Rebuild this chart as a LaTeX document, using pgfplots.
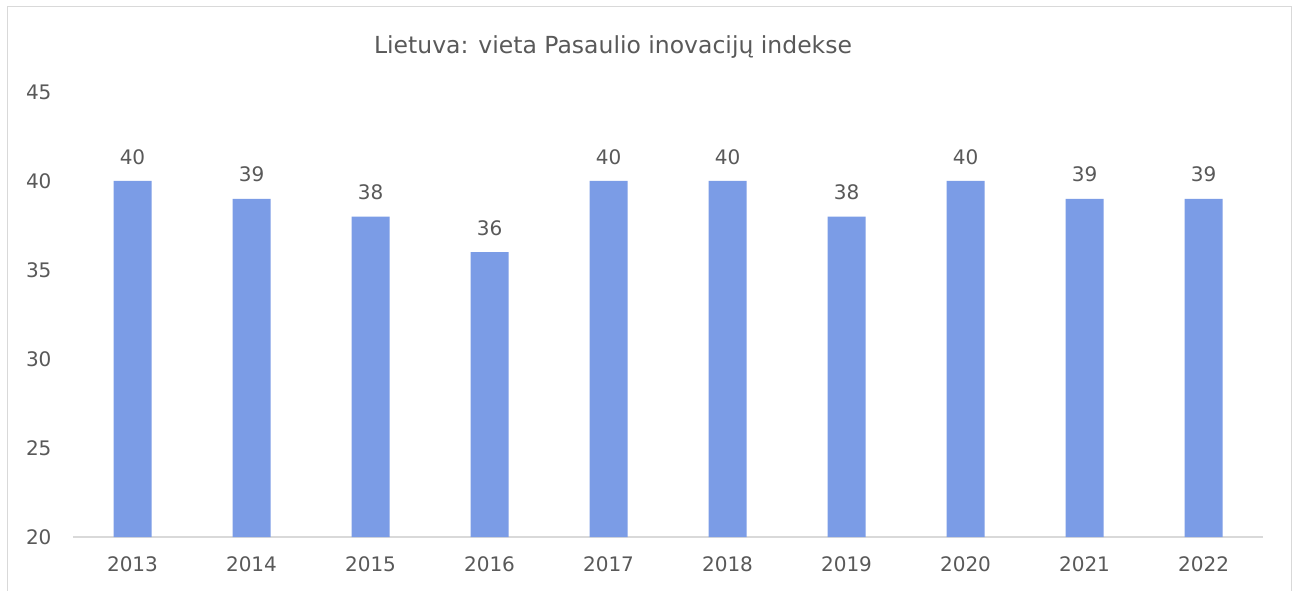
\documentclass[border=0pt]{standalone}
\usepackage{pgfplots}
\pgfplotsset{compat=1.18}
\usepackage{fontspec}
\setmainfont{DejaVu Sans}
\definecolor{barc}{HTML}{7B9CE6}
\definecolor{txt}{HTML}{595959}
\definecolor{linec}{HTML}{D9D9D9}
\begin{document}
\begin{tikzpicture}[x=1pt,y=1pt]
\useasboundingbox (0,0) rectangle (1299,590);
\fill[white] (0,0) rectangle (1299,590);
\draw[linec,line width=1.5pt] (7.5,-10) -- (7.5,583.5) -- (1291.5,583.5) -- (1291.5,-10);
\begin{axis}[
  at={(73pt,53pt)}, anchor=south west,
  scale only axis, width=1190pt, height=445pt,
  xmin=-0.5, xmax=9.5, ymin=20, ymax=45,
  ytick={20,25,30,35,40,45},
  xtick={0,...,9},
  xticklabels={2013,2014,2015,2016,2017,2018,2019,2020,2021,2022},
  axis line style={draw=none},
  axis x line*=bottom,
  x axis line style={draw=linec, line width=1.2pt},
  tick style={draw=none},
  ticklabel style={font=\fontsize{20}{24}\selectfont, text=txt},
  /pgf/number format/assume math mode=true,
  yticklabel style={xshift=-18pt, anchor=east},
  xticklabel style={yshift=-16pt},
  title={Lietuva: vieta Pasaulio inovacijų indekse},
  title style={font=\fontsize{23.5}{28}\selectfont, text=txt, at={(0.5,1)}, xshift=-55pt, yshift=24pt},
  clip=false,
  nodes near coords,
  every node near coord/.append style={font=\fontsize{20}{24}\selectfont, text=txt, yshift=13pt},
]
\addplot[ybar, bar width=38pt, fill=barc, draw=none] coordinates {
(0,40) (1,39) (2,38) (3,36) (4,40) (5,40) (6,38) (7,40) (8,39) (9,39)};
\end{axis}
\end{tikzpicture}
\end{document}
